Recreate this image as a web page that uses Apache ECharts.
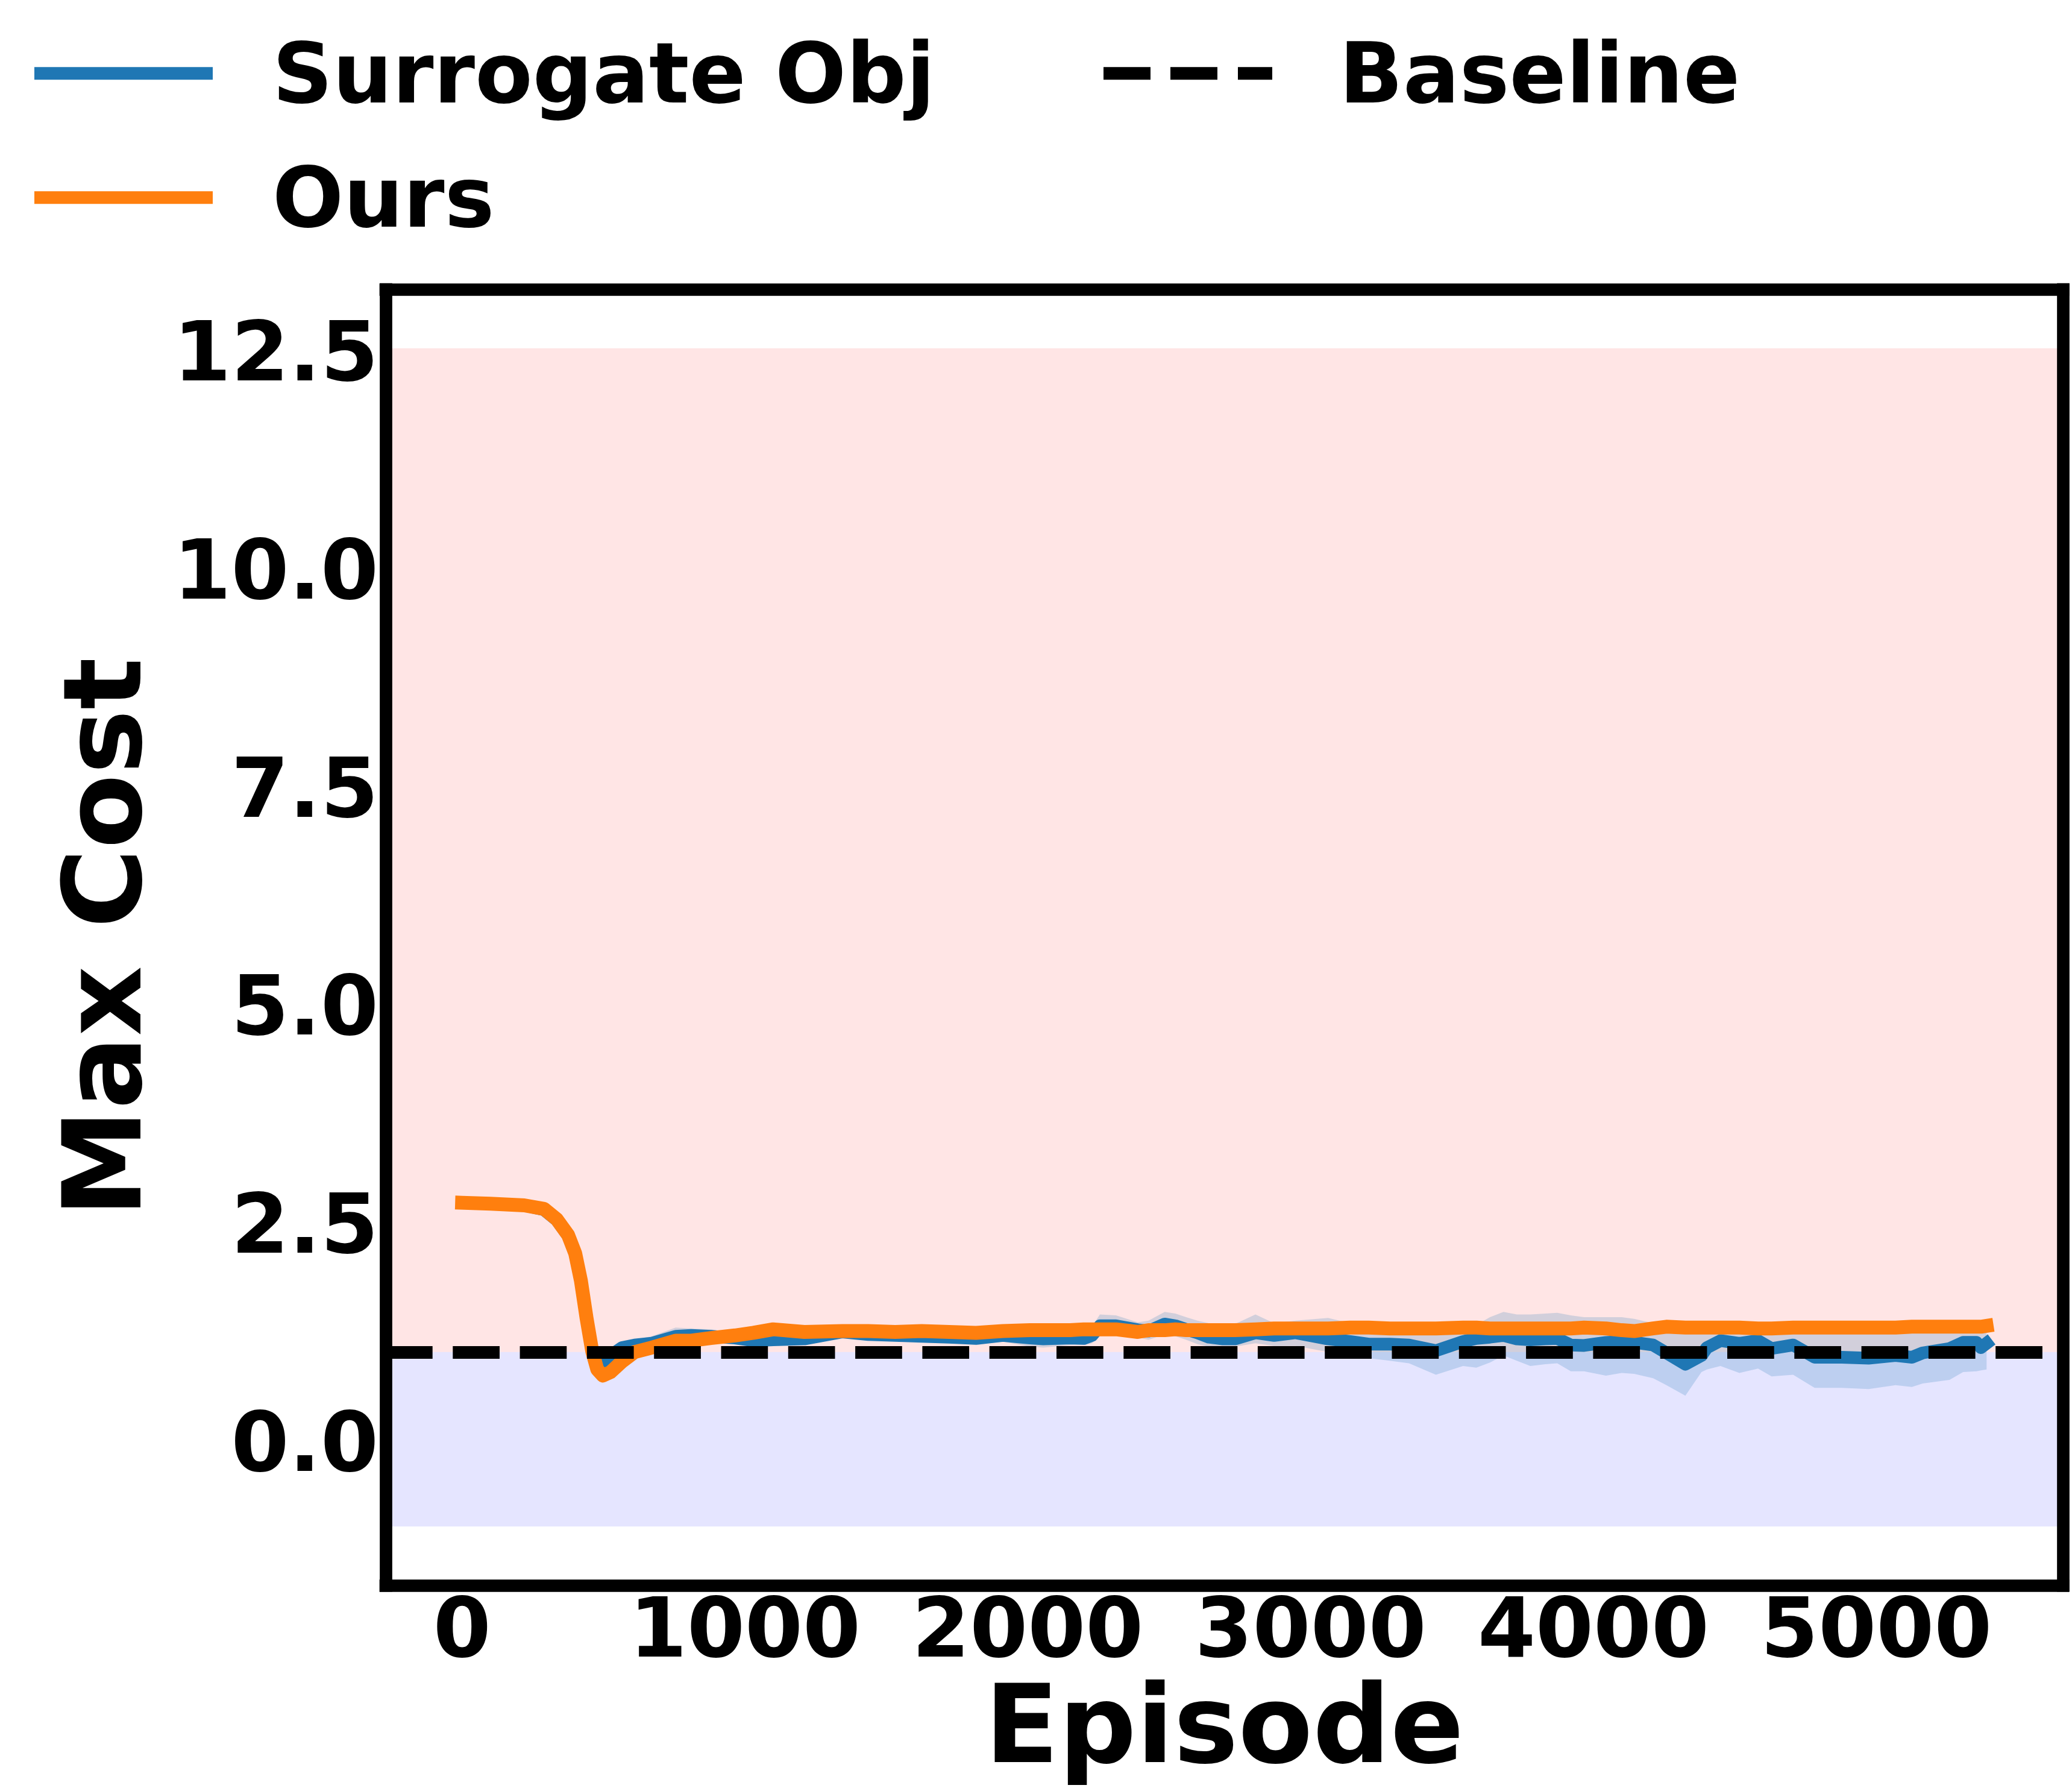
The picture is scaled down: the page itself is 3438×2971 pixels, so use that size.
<!DOCTYPE html>
<html>
<head>
<meta charset="utf-8">
<script src="https://cdn.jsdelivr.net/npm/echarts@6/dist/echarts.min.js"></script>
<style>
html,body{margin:0;padding:0;background:#ffffff;}
#chart{width:3438px;height:2971px;}
</style>
</head>
<body>
<div id="chart"></div>
<script>
// ---- data ----
const episodes = [0,100,220,290,335,375,400,420,440,460,478,498,525,565,610,670,755,810,880,965,1030,1100,1210,1345,1436,1531,1625,1722,1817,1912,2008,2055,2150,2198,2227,2255,2312,2389,2427,2484,2522,2560,2600,2640,2690,2732,2805,2871,2947,3062,3140,3205,3280,3348,3443,3539,3586,3634,3682,3729,3777,3830,3872,3920,3967,4044,4100,4144,4211,4258,4325,4382,4401,4449,4516,4582,4630,4706,4782,4878,4973,5068,5126,5164,5259,5307,5354,5370,5390];

const ours = [2.71,2.70,2.68,2.64,2.52,2.34,2.13,1.82,1.39,1.01,
  0.80,0.73,0.77,0.89,1.00,1.05,1.13,1.13,1.16,1.19,
  1.22,1.26,1.23,1.24,1.24,1.23,1.24,1.23,1.22,1.24,
  1.25,1.25,1.25,1.26,1.26,1.26,1.26,1.23,1.25,1.25,
  1.26,1.25,1.25,1.25,1.25,1.25,1.26,1.27,1.27,1.27,
  1.28,1.28,1.27,1.27,1.27,1.28,1.28,1.27,1.27,1.27,
  1.27,1.27,1.27,1.27,1.28,1.27,1.25,1.24,1.27,1.29,
  1.28,1.28,1.28,1.28,1.28,1.27,1.27,1.28,1.28,1.28,
  1.28,1.28,1.29,1.29,1.29,1.29,1.29,1.29,1.30];

const surrogateObj = [2.71,2.70,2.68,2.63,2.51,2.33,2.12,1.81,1.38,1.00,
  0.87,0.84,0.96,1.05,1.08,1.10,1.18,1.19,1.18,1.16,
  1.13,1.14,1.15,1.23,1.20,1.19,1.18,1.17,1.155,1.19,
  1.16,1.15,1.16,1.155,1.19,1.30,1.30,1.255,1.24,1.32,
  1.30,1.26,1.22,1.17,1.15,1.15,1.22,1.19,1.22,1.15,
  1.12,1.09,1.09,1.08,1.015,1.12,1.155,1.17,1.19,1.15,
  1.14,1.15,1.155,1.08,1.075,1.11,1.12,1.11,1.08,0.99,
  0.86,0.96,1.05,1.13,1.10,1.13,1.04,1.08,0.94,0.94,
  0.93,0.96,0.94,0.99,1.04,1.11,1.11,1.05,1.10];

const surrogateHigh = [2.73,2.72,2.70,2.65,2.53,2.35,2.14,1.83,1.40,1.02,
  0.89,0.87,1.02,1.12,1.14,1.18,1.28,1.27,1.26,1.22,
  1.19,1.19,1.20,1.28,1.25,1.24,1.23,1.22,1.21,1.24,
  1.22,1.21,1.22,1.22,1.29,1.43,1.42,1.34,1.36,1.46,
  1.44,1.40,1.36,1.33,1.33,1.32,1.43,1.33,1.36,1.39,
  1.33,1.31,1.30,1.30,1.28,1.31,1.31,1.40,1.46,1.43,
  1.43,1.44,1.45,1.42,1.40,1.40,1.40,1.38,1.33,1.28,
  1.22,1.24,1.25,1.25,1.24,1.24,1.22,1.23,1.22,1.22,
  1.22,1.22,1.22,1.22,1.23,1.24,1.24,1.24,1.24];

const surrogateLow = [2.69,2.68,2.66,2.61,2.49,2.31,2.10,1.79,1.36,0.98,
  0.84,0.81,0.90,0.93,0.96,1.00,1.08,1.10,1.10,1.10,
  1.08,1.09,1.10,1.18,1.15,1.14,1.12,1.11,1.08,1.12,
  1.06,1.05,1.08,1.08,1.10,1.18,1.20,1.17,1.14,1.20,
  1.18,1.14,1.09,1.06,1.05,1.06,1.10,1.07,1.07,1.00,
  0.95,0.93,0.90,0.87,0.74,0.84,0.82,0.88,0.96,0.90,
  0.84,0.86,0.87,0.78,0.78,0.73,0.76,0.75,0.70,0.62,
  0.50,0.77,0.80,0.84,0.76,0.81,0.72,0.74,0.59,0.59,
  0.575,0.62,0.60,0.64,0.68,0.77,0.78,0.79,0.80];

const baselineValue = 1.0;
const unsafeSpan = [1.0, 12.5];
const safeSpan = [-1.0, 1.0];
const xTicks = [0, 1000, 2000, 3000, 4000, 5000];
const yTicks = [0, 2.5, 5, 7.5, 10, 12.5];
const xRange = [-270, 5660];
const yRange = [-1.675, 13.175];

// ---- chart ----
const FONT = 'DejaVu Sans';
const chart = echarts.init(document.getElementById('chart'), null, {renderer: 'canvas', width: 3438, height: 2971});

const frameLine = {show: true, onZero: false, lineStyle: {color: '#000', width: 20.7, cap: 'square'}};
const tickFont = {fontSize: 138, fontWeight: 'bold', fontFamily: FONT, color: '#000'};
const nameFont = {fontSize: 180, fontWeight: 'bold', fontFamily: FONT, color: '#000', lineHeight: 180};
const legendText = (pad) => ({fontSize: 139, fontWeight: 'bold', fontFamily: FONT, color: '#000', lineHeight: 139, padding: [0, 0, 0, pad]});
// legend handle icons: a bar placed inside a 60px tall icon box (corner points fix the box)
const solidIcon = 'path://M0,0L0,0M0,60L0,60M0,7.7H296V28.7H0Z';
const dashIcon = 'path://M0,0L0,0M0,60L0,60M0,7.7H78V28.7H0Z M111,7.7H189V28.7H111Z M223,7.7H280V28.7H223Z';

const pairs = (ys) => episodes.map((e, i) => [e, ys[i]]);

const option = {
  animation: false,
  backgroundColor: '#ffffff',
  grid: {left: 640, top: 480, width: 2783, height: 2156, show: false, containLabel: false},
  xAxis: [
    {type: 'value', position: 'bottom', min: xRange[0], max: xRange[1], z: 10,
     axisLine: frameLine, axisTick: {show: false}, splitLine: {show: false},
     axisLabel: Object.assign({customValues: xTicks, margin: 13, lineHeight: 138, formatter: (v) => String(v)}, tickFont),
     name: 'Episode', nameLocation: 'middle', nameGap: 142, nameTextStyle: nameFont},
    {type: 'value', position: 'top', min: xRange[0], max: xRange[1], z: 10,
     axisLine: frameLine, axisTick: {show: false}, splitLine: {show: false}, axisLabel: {show: false}}
  ],
  yAxis: [
    {type: 'value', position: 'left', min: yRange[0], max: yRange[1], z: 10,
     axisLine: frameLine, axisTick: {show: false}, splitLine: {show: false},
     axisLabel: Object.assign({customValues: yTicks, margin: 12, verticalAlign: 'top', lineHeight: 34, formatter: (v) => v.toFixed(1)}, tickFont),
     name: 'Max Cost', nameLocation: 'middle', nameGap: 349, nameRotate: 90, nameTextStyle: nameFont},
    {type: 'value', position: 'right', min: yRange[0], max: yRange[1], z: 10,
     axisLine: frameLine, axisTick: {show: false}, splitLine: {show: false}, axisLabel: {show: false}}
  ],
  legend: [
    {data: [{name: 'Surrogate Obj', icon: solidIcon}], left: 57, top: 64, padding: 0, selectedMode: false,
     itemWidth: 296, itemHeight: 60, itemStyle: {borderWidth: 0}, textStyle: legendText(94)},
    {data: [{name: 'Baseline', icon: dashIcon}], left: 1831, top: 64, padding: 0, selectedMode: false,
     itemWidth: 280, itemHeight: 60, itemStyle: {borderWidth: 0}, textStyle: legendText(106)},
    {data: [{name: 'Ours', icon: solidIcon}], left: 57, top: 270, padding: 0, selectedMode: false,
     itemWidth: 296, itemHeight: 60, itemStyle: {borderWidth: 0}, textStyle: legendText(94)}
  ],
  series: [
    {
      name: 'spans', type: 'line', data: [], z: 1, silent: true,
      markArea: {
        silent: true, label: {show: false},
        itemStyle: {opacity: 1, borderWidth: 0},
        data: [
          [{yAxis: unsafeSpan[0], itemStyle: {color: 'rgba(255,0,0,0.1)'}}, {yAxis: unsafeSpan[1]}],
          [{yAxis: safeSpan[0], itemStyle: {color: 'rgba(0,0,255,0.1)'}}, {yAxis: safeSpan[1]}]
        ]
      }
    },
    {
      name: 'surrogateBand', type: 'custom', z: 2, silent: true,
      data: [[episodes[0], surrogateObj[0]]],
      renderItem: function (params, api) {
        if (params.dataIndex !== 0) return null;
        const pts = [];
        for (let i = 0; i < episodes.length; i++) pts.push(api.coord([episodes[i], surrogateHigh[i]]));
        for (let i = episodes.length - 1; i >= 0; i--) pts.push(api.coord([episodes[i], surrogateLow[i]]));
        return {type: 'polygon', shape: {points: pts}, style: {fill: 'rgba(31,119,180,0.2)', stroke: null}};
      }
    },
    {
      name: 'Surrogate Obj', type: 'line', z: 3, color: '#1f77b4',
      data: pairs(surrogateObj), showSymbol: false, symbol: 'none', silent: true,
      lineStyle: {color: '#1f77b4', width: 21, cap: 'square', join: 'round'},
      itemStyle: {color: '#1f77b4'}
    },
    {
      name: 'Ours', type: 'line', z: 4, color: '#ff7f0e',
      data: pairs(ours), showSymbol: false, symbol: 'none', silent: true,
      lineStyle: {color: '#ff7f0e', width: 23, cap: 'square', join: 'round'},
      itemStyle: {color: '#ff7f0e'}
    },
    {
      name: 'Baseline', type: 'line', z: 5, color: '#000000', data: [], silent: true,
      itemStyle: {color: '#000000'},
      lineStyle: {color: '#000000', width: 21, type: [77.7, 33.6]},
      markLine: {
        silent: true, symbol: ['none', 'none'], label: {show: false},
        lineStyle: {color: '#000000', width: 21, type: [77.7, 33.6], cap: 'butt'},
        emphasis: {disabled: true},
        data: [{yAxis: baselineValue}]
      }
    }
  ]
};
chart.setOption(option);
</script>
</body>
</html>
